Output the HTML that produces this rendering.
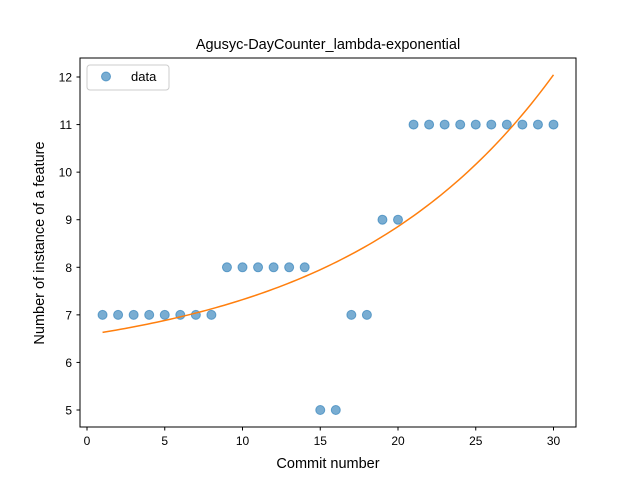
<!DOCTYPE html>
<html><head><meta charset="utf-8"><style>
body{margin:0;background:#fff;}
svg{font-family:"Liberation Sans","DejaVu Sans",sans-serif;}
</style></head><body>
<svg id="chart" width="640" height="480" xmlns="http://www.w3.org/2000/svg">
<rect width="640" height="480" fill="#fff"/>
<text x="328" y="49" text-anchor="middle" font-size="14.5">Agusyc-DayCounter_lambda-exponential</text>
<g id="marks"></g>
<rect x="80" y="58" width="496" height="369" fill="none" stroke="#000" stroke-width="1"/>
<g id="axes"></g>
<text x="328" y="468" text-anchor="middle" font-size="14.5">Commit number</text>
<text transform="translate(44,243) rotate(-90)" text-anchor="middle" font-size="14.5">Number of instance of a feature</text>
<g>
<rect x="87" y="65" width="82" height="25" rx="3" fill="#fff" stroke="#ccc"/>
<circle cx="106" cy="76.5" r="4.5" fill="#1f77b4" fill-opacity="0.6" stroke="#1f77b4" stroke-opacity="0.6" stroke-width="1"/>
<text x="131" y="81" font-size="13">data</text>
</g>
</svg>
<script>
const commits=[1,2,3,4,5,6,7,8,9,10,11,12,13,14,15,16,17,18,19,20,21,22,23,24,25,26,27,28,29,30];
const counts=[7,7,7,7,7,7,7,7,8,8,8,8,8,8,5,5,7,7,9,9,11,11,11,11,11,11,11,11,11,11];
const fitParams=[0.689,0.073,5.89];
const xTicks=[0,5,10,15,20,25,30];
const yTicks=[5,6,7,8,9,10,11,12];
const NS="http://www.w3.org/2000/svg";
function X(v){return 87+v*15.55;}
function Y(v){return 410-(v-5)*47.57;}
const marks=document.getElementById('marks');
const axes=document.getElementById('axes');
function mk(t,a,p){const e=document.createElementNS(NS,t);for(const k in a)e.setAttribute(k,a[k]);p.appendChild(e);return e;}
commits.forEach((c,i)=>{
 const e=mk('circle',{cx:X(c),cy:Y(counts[i]),r:4.5,fill:'#1f77b4','fill-opacity':0.6,stroke:'#1f77b4','stroke-opacity':0.6,'stroke-width':1},marks);
 
 
});
let d='';
for(let k=0;k<=100;k++){const x=1+29*k/100;const y=fitParams[0]*Math.exp(fitParams[1]*x)+fitParams[2];d+=(k?'L':'M')+X(x).toFixed(2)+','+Y(y).toFixed(2);}
const fl=mk('path',{d:d,fill:'none',stroke:'#ff7f0e','stroke-width':1.5},marks);


xTicks.forEach(t=>{
 mk('line',{x1:X(t),x2:X(t),y1:427,y2:430.5,stroke:'#000'},axes);
 const e=mk('text',{x:X(t),y:445,'text-anchor':'middle','font-size':'12'},axes);
 e.textContent=t;
 
 
});
yTicks.forEach(t=>{
 mk('line',{x1:76.5,x2:80,y1:Y(t),y2:Y(t),stroke:'#000'},axes);
 const e=mk('text',{x:72,y:Y(t)+4.5,'text-anchor':'end','font-size':'12'},axes);
 e.textContent=t;
 
 
});
</script>
</body></html>
